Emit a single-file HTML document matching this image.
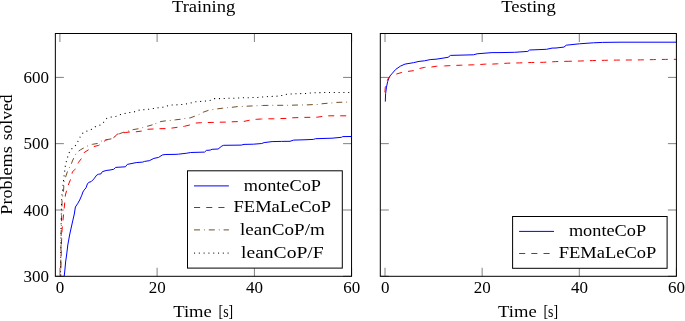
<!DOCTYPE html>
<html><head><meta charset="utf-8"><title>Training / Testing</title>
<style>html,body{margin:0;padding:0;background:#fff;}svg{display:block;will-change:transform;}text{font-family:"Liberation Serif",serif;fill:#000;}</style>
</head><body>
<svg width="685" height="321" viewBox="0 0 685 321">
<rect x="0" y="0" width="685" height="321" fill="#fff"/>
<path d="M59.9,33.5v8.5M59.9,276.25v-8.5M157.1,33.5v8.5M157.1,276.25v-8.5M254.4,33.5v8.5M254.4,276.25v-8.5M351.6,33.5v8.5M351.6,276.25v-8.5M55.35,276.25h8.5M351.55,276.25h-8.5M55.35,210.0h8.5M351.55,210.0h-8.5M55.35,143.65h8.5M351.55,143.65h-8.5M55.35,77.4h8.5M351.55,77.4h-8.5M385.0,33.5v8.5M385.0,276.25v-8.5M482.15,33.5v8.5M482.15,276.25v-8.5M579.3,33.5v8.5M579.3,276.25v-8.5M676.4,33.5v8.5M676.4,276.25v-8.5M380.3,276.25h8.5M676.4,276.25h-8.5M380.3,210.0h8.5M676.4,210.0h-8.5M380.3,143.65h8.5M676.4,143.65h-8.5M380.3,77.4h8.5M676.4,77.4h-8.5" stroke="#808080" stroke-width="1" fill="none"/>
<polyline points="64.2,276.2 64.9,270.0 65.6,262.0 66.6,255.0 67.8,245.0 69.6,235.0 70.7,230.0 72.9,220.1 74.3,214.0 75.4,207.0 77.6,203.7 79.7,200.0 81.8,195.2 82.9,192.0 84.1,190.1 86.0,187.8 87.4,184.0 88.8,182.3 91.1,181.7 93.9,178.9 96.7,175.1 98.6,174.2 100.9,173.9 102.3,171.7 106.1,170.5 110.0,170.0 113.7,169.3 115.6,167.4 125.4,166.8 127.3,164.4 136.2,162.6 142.7,162.1 144.6,161.4 149.3,160.7 153.9,158.4 158.6,157.4 162.3,155.0 165.1,154.5 174.0,154.4 178.4,154.2 186.8,153.2 190.6,152.5 204.6,152.1 206.4,150.4 210.2,150.1 212.1,149.3 218.1,149.0 221.9,146.0 223.7,145.3 234.0,145.2 241.2,145.1 244.0,144.4 253.4,144.2 261.8,143.5 264.1,142.6 272.1,141.6 281.4,141.4 290.0,141.3 293.7,140.1 304.0,139.8 313.4,139.4 315.7,138.7 332.1,138.2 341.4,137.3 342.8,136.6 351.6,136.5" fill="none" stroke="#0000ff" stroke-width="1" stroke-linejoin="round"/>
<polyline points="385.3,101.6 385.6,93.7 386.5,87.1 387.7,81.4 389.6,76.4 392.4,73.2 395.6,69.5 400.3,66.2 405.0,64.1 413.4,62.7 419.0,61.4 424.6,60.8 430.2,59.6 436.0,59.2 440.0,58.6 448.1,57.3 450.5,55.4 473.4,54.8 477.1,53.8 492.1,52.6 500.0,52.6 514.7,52.3 527.8,51.4 529.6,50.0 546.5,49.3 552.1,48.1 556.0,48.0 563.9,47.1 566.3,45.2 579.4,43.8 593.4,42.8 602.7,42.4 620.0,42.2 676.4,42.2" fill="none" stroke="#0000ff" stroke-width="1" stroke-linejoin="round"/>
<polyline points="384.9,92.3 385.3,87.1 387.2,80.6 388.6,77.8 390.0,76.0 395.6,74.3 401.2,72.6 407.8,71.4 413.4,70.7 419.0,68.6 424.6,67.4 431.1,67.1 436.7,66.2 443.5,66.0" fill="none" stroke="#ff0000" stroke-width="1" stroke-dasharray="6 6" stroke-dashoffset="0.00"/>
<polyline points="443.5,66.0 449.1,65.7 455.6,65.4 461.2,65.2 467.8,65.0 473.4,64.8 479.9,64.5 485.5,64.1 492.1,64.1 497.7,63.8 507.2,63.2 519.4,62.9 531.5,62.5 543.7,62.3 555.8,61.6 568.1,61.3" fill="none" stroke="#ff0000" stroke-width="1" stroke-dasharray="6 6" stroke-dashoffset="11.14"/>
<polyline points="568.1,61.3 580.3,61.0 592.4,60.6 604.6,60.3 616.7,60.1 628.1,60.0 640.3,59.9 653.4,59.6 665.5,59.4 676.4,59.3" fill="none" stroke="#ff0000" stroke-width="1" stroke-dasharray="6 6" stroke-dashoffset="2.25"/>
<polyline points="60.7,276.2 61.4,245.0 62.0,230.0 63.5,215.0 65.0,200.0 65.4,195.0 66.8,190.0 68.7,184.0 70.7,179.0 72.4,172.0 74.8,169.5 78.5,162.4 81.3,158.7 84.1,152.6 88.3,149.9 92.9,146.8 98.6,145.4 104.2,142.1 105.1,140.2" fill="none" stroke="#ff0000" stroke-width="1" stroke-dasharray="6 6" stroke-dashoffset="4.20"/>
<polyline points="105.1,140.2 111.6,138.8 114.0,137.4 117.2,134.3 120.5,133.4 125.2,132.5 129.9,132.0 135.9,131.8 141.5,131.1 147.4,129.3 153.0,129.0 159.5,128.7 166.1,128.6 171.7,128.1 177.5,127.3 184.0,126.4" fill="none" stroke="#ff0000" stroke-width="1" stroke-dasharray="6 6" stroke-dashoffset="3.25"/>
<polyline points="184.0,126.4 189.6,125.0 195.2,123.1 200.8,122.7 207.4,122.5 213.9,122.4 219.5,122.2 226.1,122.1 231.9,121.8 237.9,121.6 244.0,121.4 249.6,120.2 256.2,119.3 261.8,119.0" fill="none" stroke="#ff0000" stroke-width="1" stroke-dasharray="6 6" stroke-dashoffset="11.73"/>
<polyline points="261.8,119.0 268.3,118.8 273.9,118.8 280.5,118.6 286.1,118.4 292.1,117.8 298.9,117.6 304.5,117.4 310.6,117.3 317.1,117.2 322.7,116.4 328.8,115.8 351.6,115.8" fill="none" stroke="#ff0000" stroke-width="1" stroke-dasharray="6 6" stroke-dashoffset="5.45"/>
<polyline points="60.6,276.2 61.2,230.0 62.1,200.0 63.6,190.0 64.0,182.0 66.6,174.0 68.2,169.5 70.7,165.7 72.4,161.0 74.3,156.8 76.6,152.6 80.4,149.8 84.6,147.5 88.7,145.4 92.5,144.3 98.6,143.3 102.0,140.7 105.1,140.0 111.6,138.8 114.0,137.4 117.2,134.1 119.6,133.7 124.3,132.0 128.9,130.9 133.1,129.6 138.2,128.8 142.8,127.5 147.5,126.2 152.5,124.8" fill="none" stroke="#734d26" stroke-width="1" stroke-dasharray="6 4 0.8 4" stroke-dashoffset="4.20"/>
<polyline points="152.5,124.8 156.7,123.2 160.9,121.5 166.1,120.8 171.2,120.4 175.6,119.8 181.2,119.2 185.4,118.4 190.1,117.9 194.3,116.4 199.0,114.6 203.2,112.2 208.3,110.4 212.5,109.6 217.7,108.8 222.8,108.2 227.5,107.6 231.9,107.3 237.5,106.6 242.6,106.4 246.8,106.2 252.9,105.9 257.6,105.7 261.8,105.5" fill="none" stroke="#734d26" stroke-width="1" stroke-dasharray="6 4 0.8 4" stroke-dashoffset="6.79"/>
<polyline points="261.8,105.5 267.9,105.4 272.5,105.3 287.5,105.3 291.9,105.2 297.9,105.0 306.8,104.9 312.9,104.6 317.4,104.5 321.8,103.8 327.9,103.2 332.5,102.9 336.7,102.4 342.8,102.2 347.5,102.1 351.6,101.9" fill="none" stroke="#734d26" stroke-width="1" stroke-dasharray="6 4 0.8 4" stroke-dashoffset="14.18"/>
<polyline points="60.5,276.2 61.0,230.0 61.7,197.0 62.3,192.0 63.8,178.0 64.5,173.0 65.0,168.0 65.7,163.6 67.0,159.2 68.5,154.5 70.1,150.3 73.4,147.3 76.8,144.2 78.5,140.0 80.8,135.7 83.5,132.2 87.9,130.7 92.2,129.0 95.8,126.4 100.5,125.0 103.7,122.1 106.8,118.4 111.3,117.1 116.1,116.3 120.3,114.6 125.0,113.5 129.6,112.6 134.5,111.8 138.8,110.2 143.6,109.7 148.3,109.3 153.2,108.6 158.1,107.8 162.8,107.3 166.8,106.0 171.4,105.1 176.4,104.9 181.2,104.6 185.9,104.0 190.7,103.0 195.5,101.8 200.4,101.4 205.3,101.1 210.0,100.4 214.4,98.6 219.3,98.6 233.7,98.2 243.6,97.8 258.0,97.4 267.9,96.6 277.7,96.1 282.5,95.4 286.7,94.2 291.5,93.9 301.2,93.6 306.4,93.4 311.0,92.9 320.8,92.6 325.5,92.4 351.6,92.4" fill="none" stroke="#000" stroke-width="1.05" stroke-dasharray="1.05 3.75" stroke-dashoffset="0.8"/>
<rect x="55.35" y="33.5" width="296.2" height="242.8" fill="none" stroke="#000" stroke-width="1"/>
<rect x="380.3" y="33.5" width="296.1" height="242.8" fill="none" stroke="#000" stroke-width="1"/>
<text x="55.85" y="293.2" font-size="16.5" textLength="8.5" lengthAdjust="spacingAndGlyphs">0</text>
<text x="148.80" y="293.2" font-size="16.5" textLength="17.0" lengthAdjust="spacingAndGlyphs">20</text>
<text x="246.10" y="293.2" font-size="16.5" textLength="17.0" lengthAdjust="spacingAndGlyphs">40</text>
<text x="343.30" y="293.2" font-size="16.5" textLength="17.0" lengthAdjust="spacingAndGlyphs">60</text>
<text x="380.95" y="293.2" font-size="16.5" textLength="8.5" lengthAdjust="spacingAndGlyphs">0</text>
<text x="473.85" y="293.2" font-size="16.5" textLength="17.0" lengthAdjust="spacingAndGlyphs">20</text>
<text x="571.00" y="293.2" font-size="16.5" textLength="17.0" lengthAdjust="spacingAndGlyphs">40</text>
<text x="668.10" y="293.2" font-size="16.5" textLength="17.0" lengthAdjust="spacingAndGlyphs">60</text>
<text x="23.60" y="281.8" font-size="16.5" textLength="25.5" lengthAdjust="spacingAndGlyphs">300</text>
<text x="23.60" y="215.6" font-size="16.5" textLength="25.5" lengthAdjust="spacingAndGlyphs">400</text>
<text x="23.60" y="149.2" font-size="16.5" textLength="25.5" lengthAdjust="spacingAndGlyphs">500</text>
<text x="23.60" y="83.0" font-size="16.5" textLength="25.5" lengthAdjust="spacingAndGlyphs">600</text>
<text x="172.0" y="12.4" font-size="16.8" textLength="63.3" lengthAdjust="spacingAndGlyphs">Training</text>
<text x="501.2" y="12.4" font-size="16.8" textLength="54.5" lengthAdjust="spacingAndGlyphs">Testing</text>
<text x="173.2" y="316.7" font-size="16.8" textLength="38.6" lengthAdjust="spacingAndGlyphs">Time</text>
<text x="218.6" y="316.7" font-size="16.8" textLength="14.6" lengthAdjust="spacingAndGlyphs">[s]</text>
<text x="498.1" y="316.7" font-size="16.8" textLength="38.6" lengthAdjust="spacingAndGlyphs">Time</text>
<text x="543.5" y="316.7" font-size="16.8" textLength="14.6" lengthAdjust="spacingAndGlyphs">[s]</text>
<g transform="translate(12.1,0) rotate(-90)">
<text x="-214.7" y="0" font-size="16.8" textLength="68.4" lengthAdjust="spacingAndGlyphs">Problems</text>
<text x="-140.3" y="0" font-size="16.8" textLength="45.8" lengthAdjust="spacingAndGlyphs">solved</text>
</g>
<rect x="187.5" y="170.8" width="154.8" height="97.3" fill="#fff" stroke="#000" stroke-width="1"/>
<line x1="194.0" y1="185.9" x2="228.9" y2="185.9" stroke="#0000ff" stroke-width="1"/>
<text x="243.8" y="190.9" font-size="16.8" textLength="77.2" lengthAdjust="spacingAndGlyphs">monteCoP</text>
<line x1="194.0" y1="207.5" x2="228.9" y2="207.5" stroke="#ff0000" stroke-width="1" stroke-dasharray="6.1 6.1"/>
<text x="233.6" y="211.9" font-size="16.8" textLength="97.5" lengthAdjust="spacingAndGlyphs">FEMaLeCoP</text>
<line x1="194.0" y1="229.9" x2="228.9" y2="229.9" stroke="#734d26" stroke-width="1" stroke-dasharray="6 4 0.8 4"/>
<text x="240.0" y="235.0" font-size="16.8" textLength="84.8" lengthAdjust="spacingAndGlyphs">leanCoP/m</text>
<line x1="194.0" y1="253.1" x2="228.9" y2="253.1" stroke="#000" stroke-width="1" stroke-dasharray="1.05 3.75"/>
<text x="241.0" y="257.9" font-size="16.8" textLength="82.7" lengthAdjust="spacingAndGlyphs">leanCoP/F</text>
<rect x="512.6" y="216.5" width="154.5" height="51.8" fill="#fff" stroke="#000" stroke-width="1"/>
<line x1="519.1" y1="231.4" x2="554.0" y2="231.4" stroke="#0000ff" stroke-width="1"/>
<text x="568.9" y="236.3" font-size="16.8" textLength="77.2" lengthAdjust="spacingAndGlyphs">monteCoP</text>
<line x1="519.1" y1="253.5" x2="554.0" y2="253.5" stroke="#ff0000" stroke-width="1" stroke-dasharray="6.1 6.1"/>
<text x="558.8" y="258.0" font-size="16.8" textLength="97.5" lengthAdjust="spacingAndGlyphs">FEMaLeCoP</text>
</svg></body></html>
